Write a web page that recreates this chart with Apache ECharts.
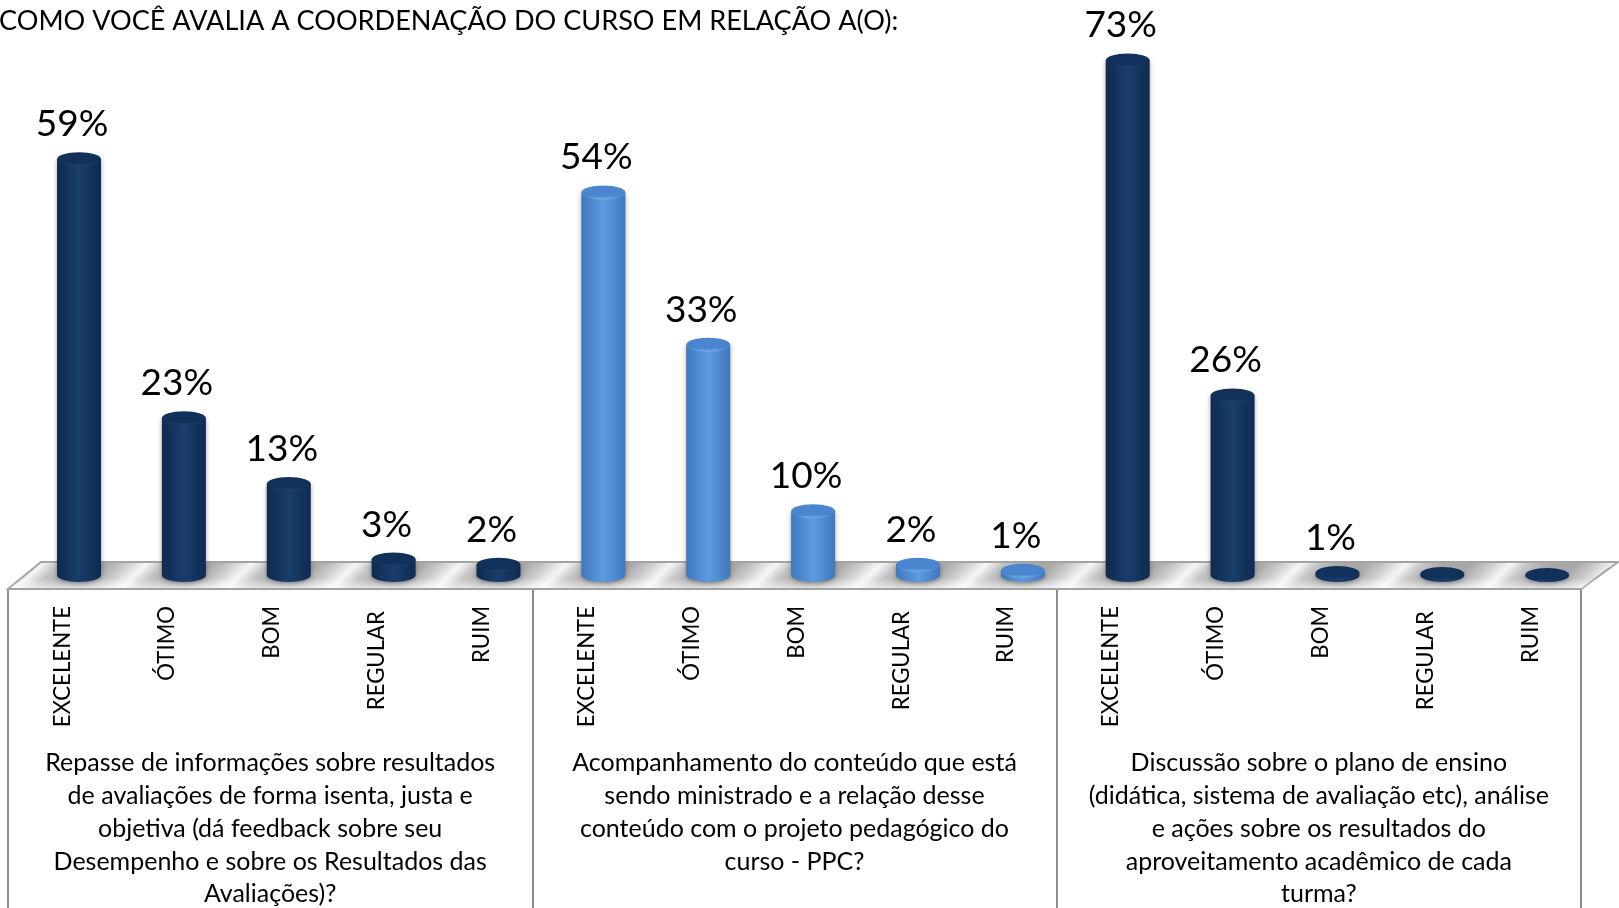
<!DOCTYPE html>
<html>
<head>
<meta charset="utf-8">
<style>
  html, body { margin: 0; padding: 0; background: #fff; }
  #chart { width: 1619px; height: 908px; }
</style>
<script src="https://cdn.jsdelivr.net/npm/echarts@6/dist/echarts.min.js"></script>
</head>
<body>
<div id="chart"></div>
<script>
const titleText = 'COMO VOCÊ AVALIA A COORDENAÇÃO DO CURSO EM RELAÇÃO A(O):'
const ratings = ['EXCELENTE', 'ÓTIMO', 'BOM', 'REGULAR', 'RUIM']
const groupNames = [
  'Repasse de informações sobre resultados\nde avaliações de forma isenta, justa e\nobjetiva (dá feedback sobre seu\nDesempenho e sobre os Resultados das\nAvaliações)?',
  'Acompanhamento do conteúdo que está\nsendo ministrado e a relação desse\nconteúdo com o projeto pedagógico do\ncurso - PPC?',
  'Discussão sobre o plano de ensino\n(didática, sistema de avaliação etc), análise\ne ações sobre os resultados do\naproveitamento acadêmico de cada\nturma?'
]
// bar heights
const repasse = [59.4, 22.4, 13.0, 2.2, 1.45]
const acompanhamento = [54.65, 32.9, 9.1, 1.45, 0.6]
const discussao = [73.5, 25.65, 0.3, 0.15, 0]
// percentages as printed over the bars
const repasseLabels = ['59%', '23%', '13%', '3%', '2%']
const acompanhamentoLabels = ['54%', '33%', '10%', '2%', '1%']
const discussaoLabels = ['73%', '26%', '1%', '', '']

const navy = ['#0e2b50', '#1b3d6c', '#0e2b50']
const blue = ['#3f77bd', '#5f9be0', '#3f77bd']
const navyTop = ['#12315a', '#1d4070']
const blueTop = ['#4a86cf', '#78ade8']

const barColors = [navy, blue, navy]
const topColors = [navyTop, blueTop, navyTop]

const categories = []
const values = []
const labels = []
;[repasse, acompanhamento, discussao].forEach((list, g) => {
  const printed = [repasseLabels, acompanhamentoLabels, discussaoLabels][g]
  list.forEach((v, i) => {
    categories.push(ratings[i])
    values.push(v)
    labels.push(printed[i])
  })
})

// bars stand in the middle of the floor's depth, so they sit right of the tick slot
const depthShift = 18.6
const barW = 44
const capH = 14

const horiz = (c) => new echarts.graphic.LinearGradient(0, 0, 1, 0, [
  { offset: 0, color: c[0] },
  { offset: 0.5, color: c[1] },
  { offset: 1, color: c[2] }
])

const renderFloor = (params, api) => {
  const slot = api.size([1, 0])[0]
  const x0 = api.coord([0, 0])[0] - slot / 2
  const x1 = api.coord([14, 0])[0] + slot / 2
  const y0 = api.coord([0, 0])[1]
  const pts = [
    [x0, y0 + 14],
    [x0 + 33, y0 - 13],
    [x1 + 37, y0 - 13],
    [x1, y0 + 14]
  ]
  // stripes follow the floor's slant, one per category
  const stops = []
  const n = 16
  for (let i = 0; i < n; i++) {
    const s = i / n
    stops.push({ offset: s, color: '#e6e6e6' })
    stops.push({ offset: s + 0.08 / n, color: '#f6f6f6' })
    stops.push({ offset: s + 0.24 / n, color: '#c4c4c4' })
    stops.push({ offset: s + 0.45 / n, color: '#a8a8a8' })
    stops.push({ offset: s + 0.7 / n, color: '#a8a8a8' })
    stops.push({ offset: s + 0.9 / n, color: '#cdcdcd' })
  }
  const span = 52.5 * 16
  const fill = new echarts.graphic.LinearGradient(
    x0, y0 + 14, x0 + span, y0 + 14 + span, stops, true
  )
  const front = new echarts.graphic.LinearGradient(0, 0, 0, 1, [
    { offset: 0, color: 'rgba(255,255,255,0)' },
    { offset: 1, color: 'rgba(255,255,255,0.65)' }
  ])
  return {
    type: 'group',
    silent: true,
    children: [
      {
        type: 'polygon',
        shape: { points: pts },
        style: { fill: fill, stroke: '#a3a3a3', lineWidth: 2 }
      },
      {
        type: 'polygon',
        shape: {
          points: [
            [x0 + 14, y0 + 3],
            [x1 + 16, y0 + 3],
            [x1 + 1, y0 + 13],
            [x0 + 2, y0 + 13]
          ]
        },
        style: { fill: front }
      }
    ]
  }
}

const renderBar = (params, api) => {
  const idx = api.value(0)
  const v = api.value(1)
  const group = Math.floor(idx / 5)
  const base = api.coord([idx, 0])
  const top = api.coord([idx, v])
  const cx = base[0] + depthShift
  const l = cx - barW / 2
  const r = cx + barW / 2
  const ry = capH / 2
  const fill = horiz(barColors[group])
  const body = 'M' + l + ' ' + top[1] +
    'L' + l + ' ' + base[1] +
    'A' + barW / 2 + ' ' + ry + ' 0 0 0 ' + r + ' ' + base[1] +
    'L' + r + ' ' + top[1] + 'Z'
  const kids = [
    {
      type: 'path',
      shape: { pathData: body, x: l, y: top[1], width: barW, height: base[1] - top[1] + ry },
      style: { fill: fill, shadowBlur: 5, shadowColor: 'rgba(0,0,0,0.35)', shadowOffsetY: 1 }
    },
    {
      type: 'ellipse',
      shape: { cx: cx, cy: top[1], rx: barW / 2, ry: ry },
      style: {
        fill: new echarts.graphic.LinearGradient(0, 0, 0, 1, [
          { offset: 0, color: topColors[group][0] },
          { offset: 0.75, color: topColors[group][0] },
          { offset: 1, color: topColors[group][1] }
        ])
      }
    }
  ]
  if (labels[idx]) {
    kids.push({
      type: 'text',
      style: {
        text: labels[idx],
        x: cx - 7,
        y: top[1] - 35,
        align: 'center',
        verticalAlign: 'middle',
        fontFamily: 'Lato',
        fontSize: 37,
        fill: '#000'
      }
    })
  }
  return { type: 'group', children: kids }
}

const chart = echarts.init(document.getElementById('chart'))
chart.setOption({
  backgroundColor: '#fff',
  animation: false,
  title: {
    text: titleText,
    left: -6,
    top: 3,
    textStyle: { fontFamily: 'Lato', fontSize: 27.1, fontWeight: 'normal', color: '#000' }
  },
  grid: { left: 8, right: 38, top: 15, bottom: 333, containLabel: false, outerBoundsMode: 'none' },
  xAxis: [
    {
      type: 'category',
      data: categories,
      position: 'bottom',
      axisLine: { show: false },
      axisTick: { show: false },
      axisLabel: {
        interval: 0,
        rotate: 90,
        margin: 31,
        padding: [4, 0, 0, 0],
        fontFamily: 'Lato',
        fontSize: 22.2,
        color: '#000',
        // REGULAR starts a little lower than the others
        formatter: (v) => (v === 'REGULAR' ? '{r|' + v + '}' : v),
        rich: {
          r: { fontFamily: 'Lato', fontSize: 22.2, color: '#000', padding: [0, 5, 0, 0] }
        }
      }
    },
    {
      type: 'category',
      data: groupNames,
      position: 'bottom',
      offset: 14,
      axisLine: { show: true, lineStyle: { color: '#a3a3a3', width: 2 } },
      axisTick: { show: true, length: 330, lineStyle: { color: '#8c8c8c', width: 2 } },
      axisLabel: {
        interval: 0,
        margin: 158,
        fontFamily: 'Lato',
        fontSize: 25,
        lineHeight: 32.7,
        align: 'center',
        verticalAlign: 'top',
        color: '#000'
      }
    }
  ],
  yAxis: { type: 'value', min: 0, max: 80, show: false },
  series: [
    {
      type: 'custom',
      renderItem: renderFloor,
      data: [[0, 0]],
      silent: true,
      z: 1,
      clip: false
    },
    {
      type: 'custom',
      renderItem: renderBar,
      data: values.map((v, i) => [i, v]),
      encode: { x: 0, y: 1 },
      silent: true,
      z: 2,
      clip: false
    }
  ]
})
</script>
</body>
</html>
